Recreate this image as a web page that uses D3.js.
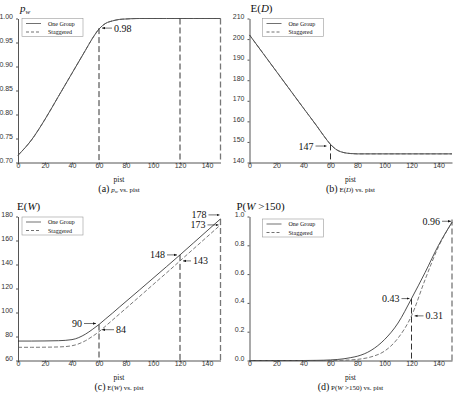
<!DOCTYPE html>
<html lang="en">
<head>
<meta charset="UTF-8">
<title>Staggered vs One Group</title>
<script src="https://d3js.org/d3.v7.min.js"></script>
<style>
  body { margin: 0; background: #fff; }
  svg { display: block; }
  .tick text { font-family: "Liberation Sans", Arial, sans-serif; font-size: 7px; fill: #333; }
  .domain, .tick line { stroke: #555; }
  .serif { font-family: "Liberation Serif", "Times New Roman", serif; fill: #111; }
</style>
</head>
<body>
<script>
// ---- data ----
const pist = [0, 10, 20, 30, 40, 50, 55, 60, 65, 70, 75, 80, 90, 100, 110, 120, 130, 140, 150];

const pwOne = [0.715, 0.747, 0.790, 0.838, 0.886, 0.934, 0.958, 0.978, 0.990, 0.995, 0.998, 0.999, 1.0, 1.0, 1.0, 1.0, 1.0, 1.0, 1.0];
const pwStag = pwOne.slice();

const edOne = [202, 193.1, 184.2, 175.3, 166.4, 157.6, 153.0, 148.8, 146.0, 144.8, 144.35, 144.2, 144.2, 144.2, 144.2, 144.2, 144.2, 144.2, 144.2];
const edStag = edOne.slice();

const ewOne = [76.2, 76.2, 76.3, 76.5, 77.4, 82, 85.8, 90, 94.8, 99.5, 104.4, 109.2, 118.8, 128.5, 138.2, 148, 158, 168, 178];
const ewStag = [71, 71, 71.1, 71.3, 72.3, 76.5, 80, 84, 88.8, 93.7, 98.6, 103.5, 113.3, 123.2, 133, 143, 153, 163, 173];

const pwbOne = [0, 0, 0, 0, 0, 0.001, 0.002, 0.004, 0.007, 0.012, 0.02, 0.03, 0.07, 0.145, 0.26, 0.43, 0.61, 0.80, 0.96];
const pwbStag = [0, 0, 0, 0, 0, 0, 0, 0, 0.001, 0.002, 0.004, 0.008, 0.025, 0.065, 0.155, 0.31, 0.56, 0.79, 0.96];

const xTicks = [0, 20, 40, 60, 80, 100, 120, 140];
const pwTicks = [0.70, 0.75, 0.80, 0.85, 0.90, 0.95, 1.00];
const edTicks = [140, 150, 160, 170, 180, 190, 200, 210];
const ewTicks = [60, 80, 100, 120, 140, 160, 180];
const pwbTicks = [0.0, 0.2, 0.4, 0.6, 0.8, 1.0];

const legendLabels = ["One Group", "Staggered"];

// vertical reference lines: [pist, top value]
const pwMarks = [[60, 0.98], [120, 1.0], [150, 1.0]];
const edMarks = [[60, 148.8]];
const ewMarks = [[60, 90], [120, 148], [150, 178]];
const pwbMarks = [[120, 0.43], [150, 0.98]];

// annotations: [pist, value, label, side(+1 text right / -1 text left), gap, len, dy]
const pwNotes = [[60, 0.98, "0.98", 1, 3, 10, 0]];
const edNotes = [[60, 148, "147", -1, 4, 11, 0]];
const ewNotes = [
  [60, 90, "90", -1, 3, 12, -1],
  [60, 84, "84", 1, 3, 12, -2],
  [120, 148, "148", -1, 3, 10, 0],
  [120, 143, "143", 1, 3, 8, 0],
  [150, 178, "178", -1, 1, 11, -4],
  [150, 173, "173", -1, 2, 11, 0]
];
const pwbNotes = [
  [150, 0.96, "0.96", -1, 1, 9, -1],
  [120, 0.43, "0.43", -1, 2, 8, 0],
  [120, 0.31, "0.31", 1, 3, 9, 0]
];

const svg = d3.select("body").append("svg").attr("width", 454).attr("height", 396);

svg.append("defs").append("marker")
    .attr("id", "arrow")
    .attr("viewBox", "0 0 10 10")
    .attr("refX", 10).attr("refY", 5)
    .attr("markerWidth", 5).attr("markerHeight", 5)
    .attr("orient", "auto")
  .append("path").attr("d", "M0,1 L10,5 L0,9 Z").attr("fill", "#111");

function panel(cfg) {
  const x = d3.scaleLinear().domain([0, 150]).range([cfg.left, cfg.left + 202.5]);
  const y = d3.scaleLinear().domain(cfg.yDomain).range([cfg.top + 144, cfg.top]);
  const g = svg.append("g");

  g.append("g")
      .attr("transform", `translate(0,${y.range()[0]})`)
      .call(d3.axisBottom(x).tickValues(xTicks).tickSize(2).tickSizeOuter(0));
  g.append("g")
      .attr("transform", `translate(${cfg.left},0)`)
      .call(d3.axisLeft(y).tickValues(cfg.ticks).tickFormat(d3.format(cfg.fmt)).tickSize(2).tickSizeOuter(0));
  g.selectAll(".tick text").attr("dy", null);
  g.selectAll(".domain").attr("stroke-width", 1);

  // reference lines
  g.selectAll(".mark").data(cfg.marks).enter().append("line")
      .attr("x1", d => x(d[0])).attr("x2", d => x(d[0]))
      .attr("y1", d => y(d[1])).attr("y2", y.range()[0])
      .attr("stroke", d => d[0] === 150 ? "#777" : "#333")
      .attr("stroke-width", d => d[0] === 150 ? 1.3 : 1)
      .attr("stroke-dasharray", "6,3");

  const line = d3.line().x((d, i) => x(pist[i])).y(d => y(d)).curve(d3.curveMonotoneX);
  g.append("path").attr("d", line(cfg.one)).attr("fill", "none")
      .attr("stroke", "#222").attr("stroke-width", 0.8);
  g.append("path").attr("d", line(cfg.stag)).attr("fill", "none")
      .attr("stroke", "#555").attr("stroke-width", 0.8).attr("stroke-dasharray", "4,2");

  // legend
  const lx = cfg.left + cfg.legDx, ly = cfg.top + cfg.legDy;
  g.append("rect").attr("x", lx).attr("y", ly).attr("width", 61).attr("height", 18)
      .attr("fill", "#fff").attr("stroke", "#999").attr("stroke-width", 0.6);
  legendLabels.forEach((t, i) => {
    const yy = ly + 5 + i * 8.5;
    g.append("line").attr("x1", lx + 4).attr("x2", lx + 19).attr("y1", yy).attr("y2", yy)
        .attr("stroke", "#333").attr("stroke-width", 0.7)
        .attr("stroke-dasharray", i ? "3,2" : null);
    g.append("text").attr("class", "serif").attr("x", lx + 26).attr("y", yy + 2)
        .attr("font-size", 6).text(t);
  });

  // annotations
  cfg.notes.forEach(n => {
    const px = x(n[0]), py = y(n[1]) + n[6];
    const tip = px + n[3] * n[4], tail = tip + n[3] * n[5];
    g.append("line").attr("x1", tail).attr("y1", py).attr("x2", tip).attr("y2", py)
        .attr("stroke", "#111").attr("stroke-width", 0.6).attr("marker-end", "url(#arrow)");
    g.append("text").attr("class", "serif")
        .attr("x", tail + n[3] * 2).attr("y", py + 3.5)
        .attr("text-anchor", n[3] > 0 ? "start" : "end")
        .attr("font-size", 10).text(n[2]);
  });

  // y title
  const yt = g.append("text").attr("class", "serif").attr("x", cfg.left + cfg.titleDx)
      .attr("y", cfg.top - 7).attr("font-size", 11);
  cfg.title(yt);

  // x label and caption
  const cx = cfg.left + 101;
  g.append("text").attr("class", "serif").attr("x", cx).attr("y", cfg.top + 163)
      .attr("text-anchor", "middle").attr("font-size", 7.5).text("pist");
  const cap = g.append("text").attr("class", "serif").attr("x", cx).attr("y", cfg.top + 173.5)
      .attr("text-anchor", "middle").attr("font-size", 7);
  cap.append("tspan").attr("font-size", 10).text(cfg.cap[0]);
  cfg.cap[1](cap);
}

panel({
  left: 18, top: 18.5, yDomain: [0.70, 1.00], ticks: pwTicks, fmt: ".2f",
  one: pwOne, stag: pwStag, marks: pwMarks, notes: pwNotes, legDx: 4, legDy: 0, titleDx: 2,
  title: t => { t.append("tspan").attr("font-style", "italic").text("p");
                t.append("tspan").attr("font-style", "italic").attr("font-size", 7).attr("dy", 2).text("w"); },
  cap: ["(a)", c => { c.append("tspan").attr("font-style", "italic").text(" p");
                      c.append("tspan").attr("font-style", "italic").attr("font-size", 5).attr("dy", 1).text("w");
                      c.append("tspan").attr("dy", -1).text(" vs. pist"); }]
});

panel({
  left: 249.5, top: 18.5, yDomain: [140, 210], ticks: edTicks, fmt: "d",
  one: edOne, stag: edStag, marks: edMarks, notes: edNotes, legDx: 13, legDy: 0, titleDx: 1,
  title: t => { t.append("tspan").text("E(");
                t.append("tspan").attr("font-style", "italic").text("D");
                t.append("tspan").text(")"); },
  cap: ["(b)", c => { c.append("tspan").text(" E(");
                      c.append("tspan").attr("font-style", "italic").text("D");
                      c.append("tspan").text(") vs. pist"); }]
});

panel({
  left: 18, top: 216.5, yDomain: [60, 180], ticks: ewTicks, fmt: "d",
  one: ewOne, stag: ewStag, marks: ewMarks, notes: ewNotes, legDx: 4, legDy: 0.5, titleDx: -1,
  title: t => { t.append("tspan").text("E(");
                t.append("tspan").attr("font-style", "italic").text("W");
                t.append("tspan").text(")"); },
  cap: ["(c)", c => { c.append("tspan").text(" E(");
                      c.append("tspan").attr("font-style", "italic").text("W");
                      c.append("tspan").text(") vs. pist"); }]
});

panel({
  left: 249.5, top: 216.5, yDomain: [0, 1], ticks: pwbTicks, fmt: ".1f",
  one: pwbOne, stag: pwbStag, marks: pwbMarks, notes: pwbNotes, legDx: 13, legDy: 2.5, titleDx: -13,
  title: t => { t.append("tspan").text("P(");
                t.append("tspan").attr("font-style", "italic").text("W");
                t.append("tspan").text(" >150)"); },
  cap: ["(d)", c => { c.append("tspan").text(" P(");
                      c.append("tspan").attr("font-style", "italic").text("W");
                      c.append("tspan").text(" >150) vs. pist"); }]
});
</script>
</body>
</html>
